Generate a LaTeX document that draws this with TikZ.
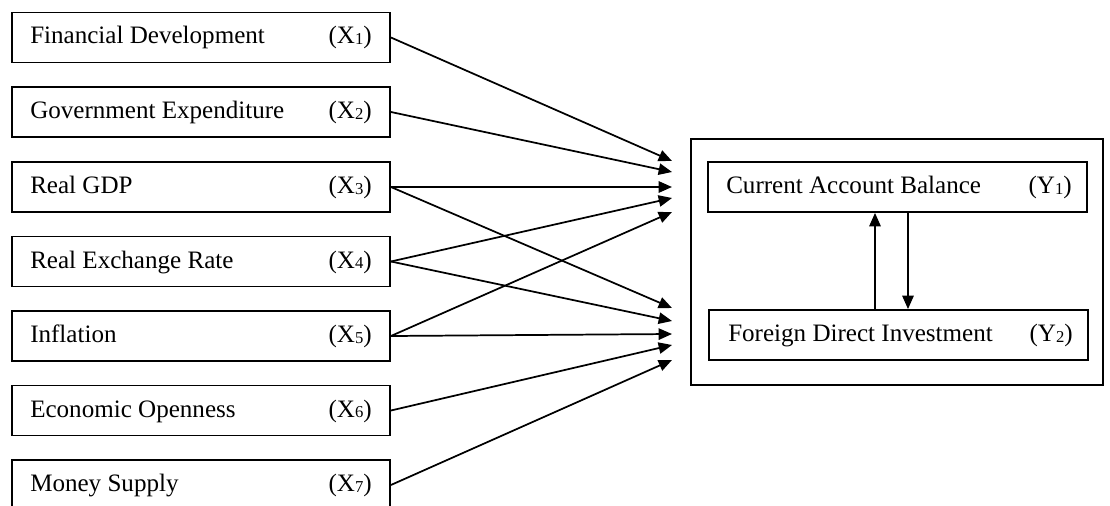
\documentclass[tikz,border=0pt]{standalone}
\usepackage{fontspec}
\setmainfont{Liberation Serif}
\usetikzlibrary{arrows.meta}
\newcommand\sbs[1]{\raisebox{-0.6pt}{\fontsize{12.5}{12.5}\selectfont #1}}
\begin{document}
\begin{tikzpicture}[x=0.75pt,y=-0.75pt,
  box/.style={draw,line width=1.4pt,minimum width=283.5pt,minimum height=37.5pt,inner sep=0pt},
  txt/.style={inner sep=0pt,font=\fontsize{18.8}{22}\selectfont},
  arr/.style={line width=1.3pt,-{Triangle[length=10pt,width=8.5pt]}}]
\useasboundingbox (0,0) rectangle (1110,506);
\fill[white] (0,0) rectangle (1110,506);
\begin{scope}
\clip (0,0) rectangle (1110,506);
% source boxes
\foreach \n/\cy/\lab/\s in {1/37.5/Financial Development/1,2/112/Government Expenditure/2,3/187/Real GDP/3,4/261.5/Real Exchange Rate/4,5/336/Inflation/5,6/410.5/Economic Openness/6,7/485/Money Supply/7}{
  \node[box] (x\n) at (201,\cy) {};
  \node[txt,anchor=base west] (tx\n) at (30,\cy+6.5) {\lab};
  \node[txt,anchor=base east] (lx\n) at (372,\cy+6.5) {(X\sbs{\s})};
}
\end{scope}
% outer box
\node[draw,line width=1.4pt,minimum width=309pt,minimum height=184.5pt,inner sep=0pt] (outer) at (897,262) {};
\node[box,minimum width=284.25pt] (y1) at (897.5,187) {};
\node[txt,anchor=base west] (ty1) at (726,193.5) {Current Account Balance};
\node[txt,anchor=base east] (ly1) at (1072,193.5) {(Y\sbs{1})};
\node[box,minimum width=284.25pt] (y2) at (898.5,335) {};
\node[txt,anchor=base west] (ty2) at (728,341.5) {Foreign Direct Investment};
\node[txt,anchor=base east] (ly2) at (1073,341.5) {(Y\sbs{2})};
% target points
\coordinate (t1) at (672,161);
\coordinate (t2) at (672,172);
\coordinate (t3) at (672,187);
\coordinate (t4) at (672,198);
\coordinate (t5) at (672,212);
\coordinate (b3) at (672,308);
\coordinate (b4) at (672,321);
\coordinate (b5) at (672,334);
\coordinate (b6) at (672,345);
\coordinate (b7) at (672,360);
\draw[arr] (x1.east) -- (t1);
\draw[arr] (x2.east) -- (t2);
\draw[arr] (x3.east) -- (t3);
\draw[arr] (x4.east) -- (t4);
\draw[arr] (x5.east) -- (t5);
\draw[arr] (x3.east) -- (b3);
\draw[arr] (x4.east) -- (b4);
\draw[arr] (x5.east) -- (b5);
\draw[arr] (x6.east) -- (b6);
\draw[arr] (x7.east) -- (b7);
% feedback arrows
\coordinate (ua) at (875,0);
\coordinate (da) at (908,0);
\draw[arr] (ua |- y2.north) -- (ua |- y1.south);
\draw[arr] (da |- y1.south) -- (da |- y2.north);
\end{tikzpicture}
\end{document}
